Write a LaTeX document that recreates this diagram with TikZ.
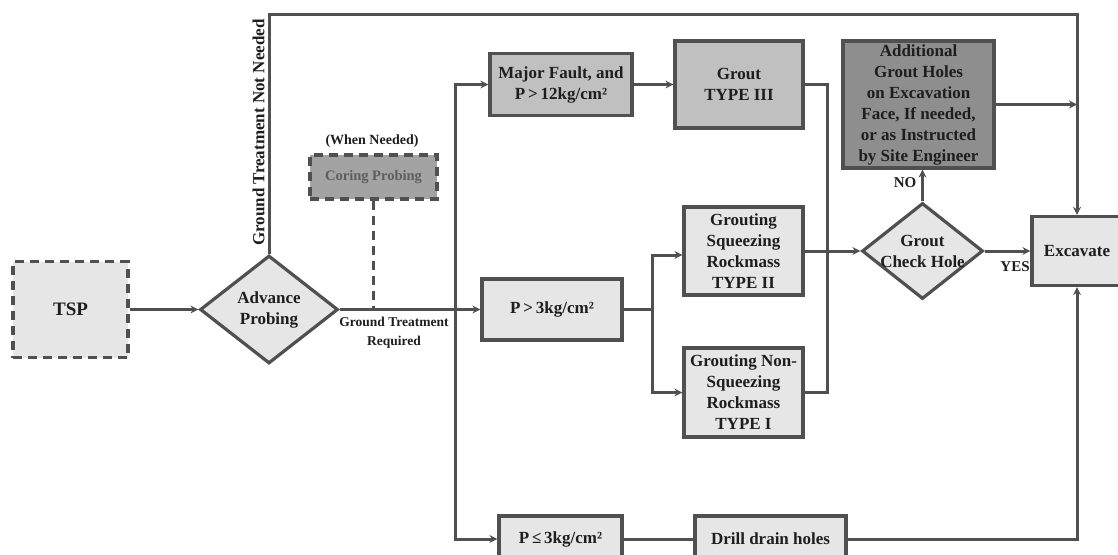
\documentclass[tikz,border=0pt]{standalone}
\usepackage{fontspec}
\setmainfont{Liberation Serif}
\usetikzlibrary{shapes.geometric,arrows.meta,calc}
\definecolor{ln}{HTML}{505050}
\definecolor{lf}{HTML}{E6E6E6}
\definecolor{mf}{HTML}{C0C0C0}
\definecolor{df}{HTML}{8E8E8E}
\definecolor{cf}{HTML}{A3A3A3}
\definecolor{tx}{HTML}{1E1E1E}
\definecolor{ct}{HTML}{5E5E5E}
\begin{document}
\begin{tikzpicture}[x=1pt,y=-1pt,
  box/.style={rectangle, draw=ln, line width=3.2pt, fill=lf, inner sep=0pt, align=center,
    text=tx, font=\bfseries\fontsize{17}{21}\selectfont},
  dbox/.style={box, dash pattern=on 9pt off 6pt},
  dia/.style={diamond, draw=ln, line width=3.2pt, fill=lf, inner sep=0pt},
  dtext/.style={align=center, text=tx, inner sep=0pt, font=\bfseries\fontsize{17}{21}\selectfont},
  lbl/.style={align=center, text=tx, inner sep=0pt, font=\bfseries\fontsize{14}{19}\selectfont},
  con/.style={draw=ln, line width=3pt},
  arr/.style={con, -{Stealth[length=8pt,width=8pt]}},
  dcon/.style={con, dash pattern=on 9pt off 6pt}
]
\useasboundingbox (0,0) rectangle (1118,554);
\clip (0,0) rectangle (1118,554);

% nodes
\node[dbox, minimum width=115pt, minimum height=96pt, font=\bfseries\fontsize{19}{22}\selectfont] (tsp) at (70.5,309.5) {TSP};
\node[dia, minimum width=138pt, minimum height=108pt] (adv) at (269,309.5) {};
\node[dtext] (advT) at (adv) {Advance\\Probing};

\node[dbox, fill=cf, text=ct, minimum width=127pt, minimum height=44pt, font=\bfseries\fontsize{14.5}{17}\selectfont] (cor) at (373.5,177) {Coring Probing};
\node[lbl] (wn) at (372,141) {(When Needed)};

\node[box, fill=mf, minimum width=142pt, minimum height=62pt] (maj) at (561,84.5) {Major Fault, and\\P\,>\,12kg/cm²};
\node[box, fill=mf, minimum width=128pt, minimum height=87pt] (g3) at (739,84.5) {Grout\\TYPE III};
\node[box, minimum width=140pt, minimum height=61pt] (p3) at (552,309.5) {P\,>\,3kg/cm²};
\node[box, minimum width=119pt, minimum height=88pt] (sq) at (743.5,251) {Grouting\\Squeezing\\Rockmass\\TYPE II};
\node[box, minimum width=119pt, minimum height=89pt] (nsq) at (743.5,392.5) {Grouting Non-\\Squeezing\\Rockmass\\TYPE I};
\node[box, minimum width=123pt, minimum height=46pt] (ple) at (560.5,539) {P\,≤\,3kg/cm²};
\node[box, minimum width=151pt, minimum height=46pt] (drill) at (770.5,539) {Drill drain holes};

\node[dia, minimum width=121pt, minimum height=96pt] (gch) at (922.5,251) {};
\node[dtext] (gchT) at (gch) {Grout\\Check Hole};
\node[box, fill=df, minimum width=151pt, minimum height=127pt] (add) at (918.5,104.5) {Additional\\Grout Holes\\on Excavation\\Face, If needed,\\or as Instructed\\by Site Engineer};
\node[box, minimum width=90pt, minimum height=69pt] (exc) at (1077,251) {Excavate};

% labels
\node[lbl, rotate=90, font=\bfseries\fontsize{17}{20}\selectfont] (gtnn) at (258.5,132.5) {Ground Treatment Not Needed};
\node[lbl, font=\bfseries\fontsize{13.5}{19}\selectfont] (gtr) at (394,333) {Ground Treatment\\Required};
\node[lbl, font=\bfseries\fontsize{15}{18}\selectfont] (yes) at (1015,267) {YES};
\node[lbl, font=\bfseries\fontsize{15}{18}\selectfont] (no) at (905,183) {NO};

% helper coordinates
\coordinate (top) at (0,14);
\coordinate (tr) at (455,0);
\coordinate (sp) at (652,0);
\coordinate (mg) at (827,0);
\coordinate (rx) at (1077,0);

% connectors
\draw[arr] (tsp.east) -- (adv.west);
\draw[arr] (adv.north) -- (adv.north |- top) -| (exc.north);
\draw[dcon] (cor.south) -- (cor.south |- adv.east);
\draw[arr] (adv.east) -- (p3.west);
\draw[arr] (tr |- p3.west) |- (maj.west);
\draw[arr] (tr |- p3.west) |- (ple.west);
\draw[arr] (maj.east) -- (g3.west);
\draw[con] (g3.east) -| (mg |- nsq.east) -- (nsq.east);
\draw[arr] (p3.east) -- (sp |- p3.east) |- ([yshift=-4pt]sq.west);
\draw[arr] (sp |- p3.east) |- (nsq.west);
\draw[arr] (sq.east) -- (gch.west);
\draw[arr] (gch.east) -- (exc.west);
\draw[arr] (gch.north) -- (gch.north |- add.south);
\draw[arr] (add.east) -- (rx |- add.east);
\draw[con] (ple.east) -- (drill.west);
\draw[arr] (drill.east) -| (exc.south);
\end{tikzpicture}
\end{document}
